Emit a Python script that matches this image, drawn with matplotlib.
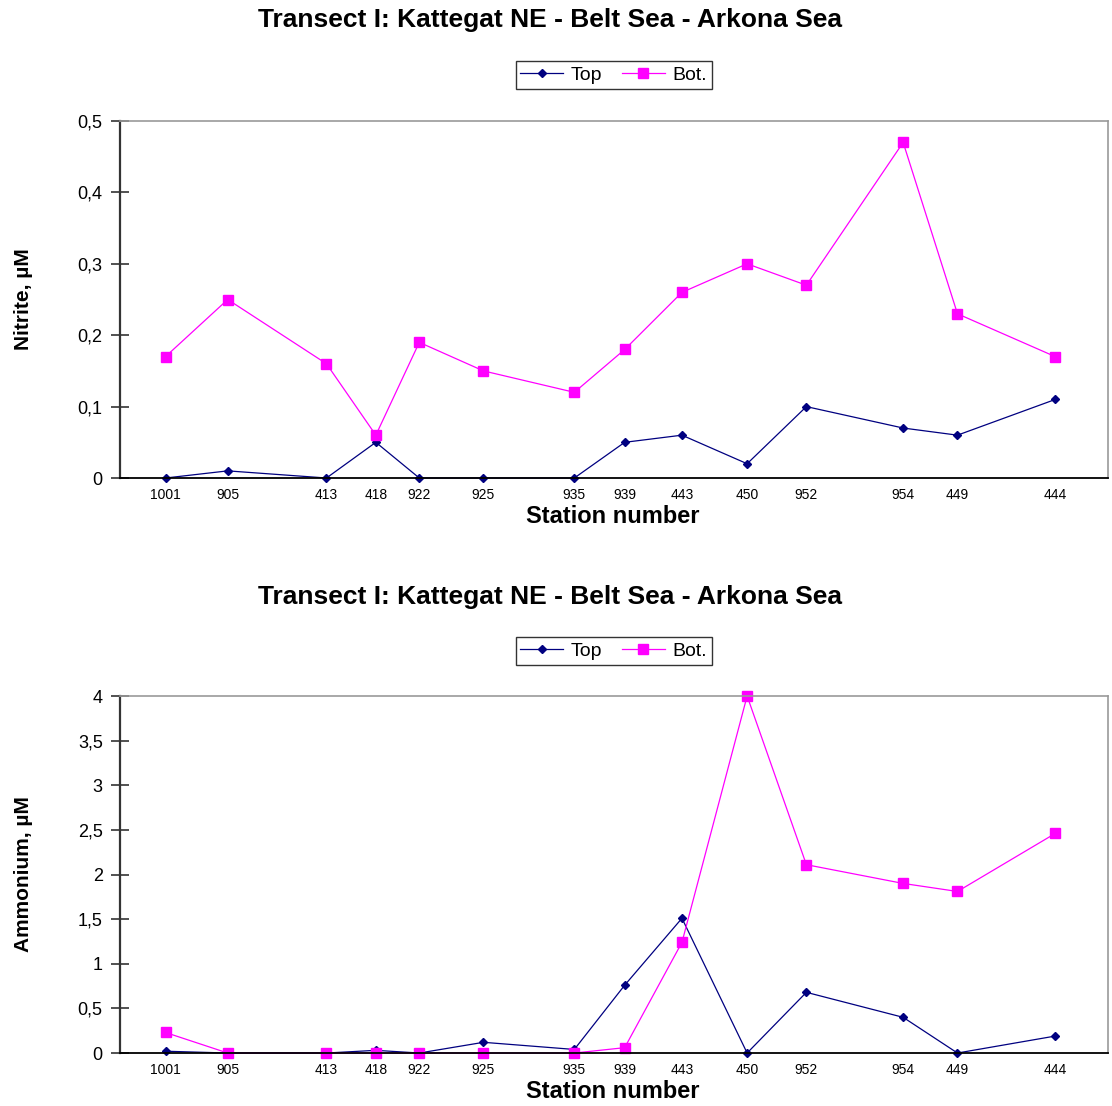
import matplotlib
matplotlib.use('Agg')
import matplotlib.pyplot as plt
from matplotlib.ticker import FuncFormatter

# stations along the transect and their relative position along the x axis
stations = ['1001', '905', '413', '418', '922', '925', '935', '939', '443', '450', '952', '954', '449', '444']
station_dist = [4.6, 10.9, 20.9, 25.9, 30.3, 36.8, 46.0, 51.1, 56.9, 63.5, 69.5, 79.3, 84.8, 94.7]

# nitrite, uM
nitrite_top = [0.0, 0.01, 0.0, 0.05, 0.0, 0.0, 0.0, 0.05, 0.06, 0.02, 0.10, 0.07, 0.06, 0.11]
nitrite_bot = [0.17, 0.25, 0.16, 0.06, 0.19, 0.15, 0.12, 0.18, 0.26, 0.30, 0.27, 0.47, 0.23, 0.17]

# ammonium, uM
ammonium_top = [0.02, 0.0, 0.0, 0.03, 0.0, 0.12, 0.04, 0.76, 1.51, 0.0, 0.68, 0.40, 0.0, 0.19]
ammonium_bot = [0.23, 0.0, 0.0, 0.0, 0.0, 0.0, 0.0, 0.06, 1.24, 4.0, 2.11, 1.90, 1.81, 2.46]

title = 'Transect I: Kattegat NE - Belt Sea - Arkona Sea'
NAVY = '#000080'
MAGENTA = '#FF00FF'

plt.rcParams['font.family'] = ['Liberation Sans', 'DejaVu Sans']

fig = plt.figure(figsize=(11.12, 11.06), dpi=100)


def comma(v, pos):
    s = ('%g' % v).replace('.', ',')
    return s


def panel(rect, top, bot, ymax, ystep, ylabel, title_y, leg_y, xlab_y):
    ax = fig.add_axes(rect)
    ax.plot(station_dist, top, color=NAVY, lw=0.9, marker='D', ms=4.5, label='Top', clip_on=False)
    ax.plot(station_dist, bot, color=MAGENTA, lw=0.9, marker='s', ms=7, label='Bot.', clip_on=False)
    ax.set_xlim(0, 100)
    ax.set_ylim(0, ymax)
    n = int(round(ymax / ystep))
    ax.set_yticks([i * ystep for i in range(n + 1)])
    ax.yaxis.set_major_formatter(FuncFormatter(comma))
    ax.tick_params(axis='y', direction='inout', length=13, width=1.2, labelsize=13, pad=6, color='#333333')
    ax.set_xticks(station_dist)
    ax.set_xticklabels(stations, fontsize=10)
    ax.tick_params(axis='x', length=0, pad=7)
    for lab in ax.get_xticklabels():
        lab.set_x(lab.get_position()[0])
    ax.spines['left'].set_color('#333333')
    ax.spines['left'].set_linewidth(1.6)
    ax.spines['bottom'].set_color('black')
    ax.spines['bottom'].set_linewidth(1.3)
    ax.spines['top'].set_color('#999999')
    ax.spines['right'].set_color('#999999')
    ax.spines['top'].set_linewidth(1.2)
    ax.spines['right'].set_linewidth(1.2)
    ax.set_ylabel(ylabel, fontsize=15, fontweight='bold', labelpad=10)
    ax.yaxis.set_label_coords(-0.088, 0.5)
    fig.text(0.495, title_y, title, fontsize=19, fontweight='bold', ha='center', va='center')
    fig.text(0.551, xlab_y, 'Station number', fontsize=17, fontweight='bold', ha='center', va='center')
    leg = ax.legend(loc='center', bbox_to_anchor=(0.552, leg_y), bbox_transform=fig.transFigure,
                    ncol=2, frameon=True, fancybox=False, fontsize=14, handlelength=2.2,
                    columnspacing=1.0, handletextpad=0.4, borderpad=0.25, borderaxespad=0)
    leg.get_frame().set_edgecolor('black')
    leg.get_frame().set_linewidth(1.0)
    return ax


panel([0.108, 0.5678, 0.888, 0.3228], nitrite_top, nitrite_bot, 0.5, 0.1, 'Nitrite, µM',
      1 - 20 / 1106, 1 - 75 / 1106, 1 - 517 / 1106)
panel([0.108, 0.0479, 0.888, 0.3228], ammonium_top, ammonium_bot, 4.0, 0.5, 'Ammonium, µM',
      1 - 597 / 1106, 1 - 651 / 1106, 1 - 1092 / 1106)

fig.savefig('out.png', dpi=100)
